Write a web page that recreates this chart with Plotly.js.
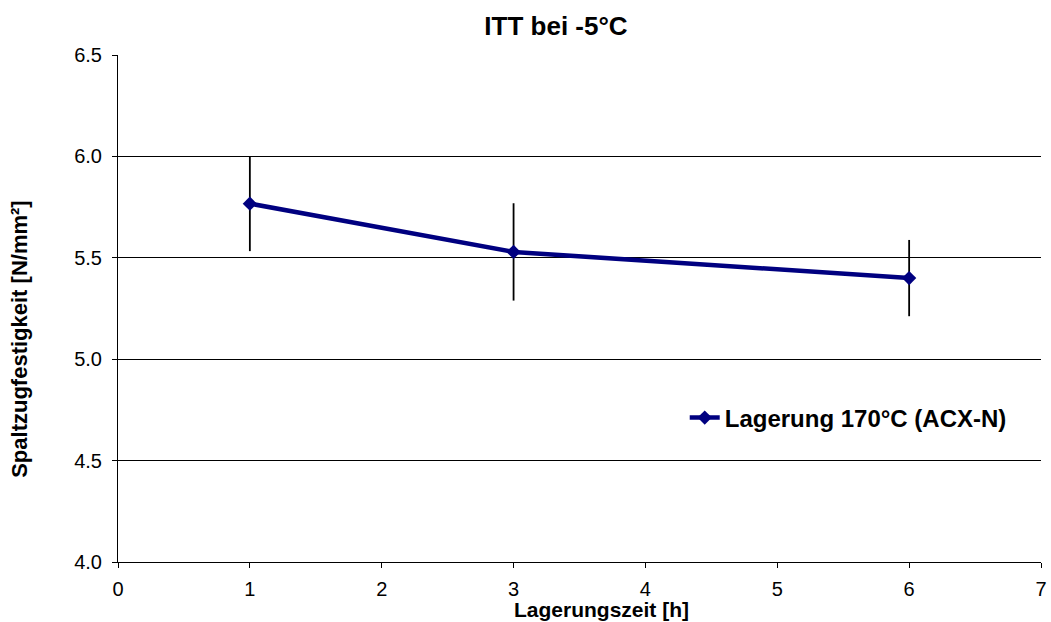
<!DOCTYPE html>
<html><head><meta charset="utf-8">
<script src="https://cdn.plot.ly/plotly-3.0.1.min.js"></script>
<style>html,body{margin:0;padding:0;background:#fff}</style>
</head><body>
<div id="chart" style="width:1051px;height:622px"></div>
<script>
const xValues = [1, 3, 6];
const yValues = [5.767, 5.529, 5.40];
const errValues = [0.234, 0.24, 0.188];
const seriesName = 'Lagerung 170°C (ACX-N)';
const xTicks = [0, 1, 2, 3, 4, 5, 6, 7];
const yTicks = [4.0, 4.5, 5.0, 5.5, 6.0, 6.5];

const font = 'Arial, "Liberation Sans", sans-serif';
Plotly.newPlot('chart', [{
  x: xValues, y: yValues, name: '<b>' + seriesName + '</b>',
  type: 'scatter', mode: 'lines+markers',
  line: {color: '#000080', width: 4.5},
  marker: {symbol: 'diamond', size: 11, color: '#000080'},
  error_y: {type: 'data', array: errValues, visible: true, color: '#000000', thickness: 1.8, width: 0}
}], {
  width: 1051, height: 622,
  margin: {l: 118, r: 10, t: 55, b: 60},
  paper_bgcolor: '#fff', plot_bgcolor: '#fff',
  font: {family: font, color: '#000'},
  title: {text: '<b>ITT bei -5°C</b>', font: {size: 26, family: font}, xref: 'container', x: 0.529, xanchor: 'center', y: 0.958, yanchor: 'middle'},
  showlegend: true,
  legend: {x: 0.614, y: 0.284, xanchor: 'left', yanchor: 'middle', font: {size: 24, family: font}, bgcolor: 'rgba(0,0,0,0)', itemwidth: 30},
  xaxis: {
    range: [0, 7], tickvals: xTicks, ticktext: xTicks.map(String),
    showline: true, linecolor: '#000', linewidth: 1, showgrid: false, zeroline: false,
    ticks: 'outside', ticklen: 5, tickcolor: '#000', tickfont: {size: 20}, ticklabelstandoff: 4
  },
  yaxis: {
    range: [4.0, 6.5], tickvals: yTicks, ticktext: yTicks.map(v => v.toFixed(1)),
    showline: true, linecolor: '#000', linewidth: 1, showgrid: true, gridcolor: '#000', gridwidth: 1, zeroline: false,
    ticks: 'outside', ticklen: 5, tickcolor: '#000', tickfont: {size: 20}, ticklabelstandoff: 6
  },
  annotations: [{
    text: '<b>Lagerungszeit [h]</b>', xref: 'paper', yref: 'paper', x: 0.524, y: -0.094,
    xanchor: 'center', yanchor: 'middle', showarrow: false, font: {size: 21}
  }, {
    text: '<b>Spaltzugfestigkeit [N/mm²]</b>', xref: 'paper', yref: 'paper', x: -0.1063, y: 0.44,
    xanchor: 'center', yanchor: 'middle', textangle: -90, showarrow: false, font: {size: 22}
  }]
}, {displayModeBar: false});
</script>
</body></html>
